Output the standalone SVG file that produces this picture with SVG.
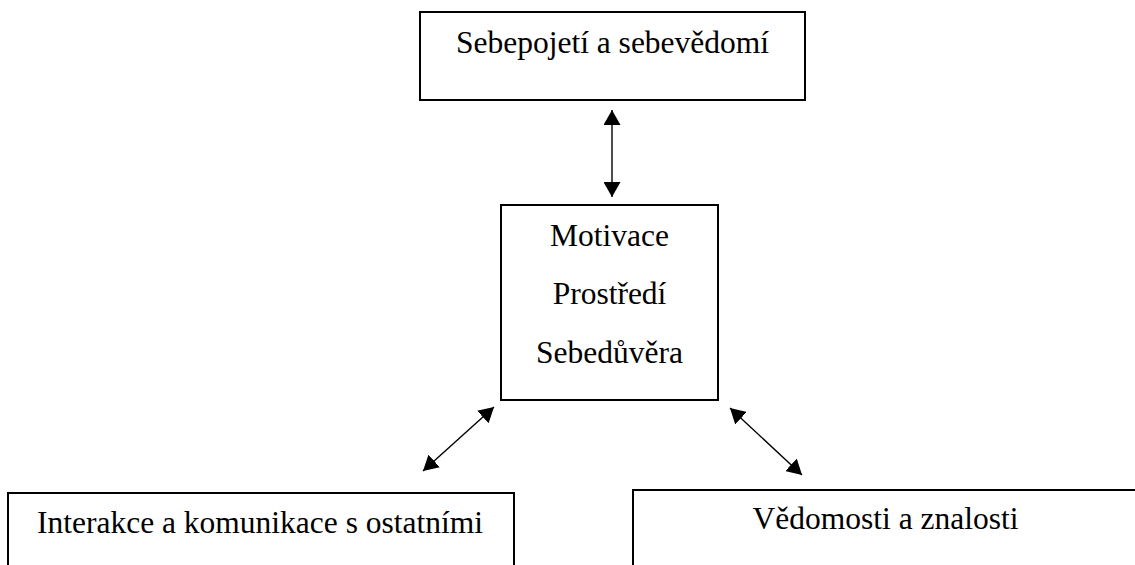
<svg xmlns="http://www.w3.org/2000/svg" width="1135" height="565" viewBox="0 0 1135 565">
<style>
.box{fill:#fff;stroke:#000;stroke-width:2}
.t{font-family:"Liberation Serif","Times New Roman",serif;font-size:31.5px;fill:#000;text-anchor:middle}
.c{stroke:#000;stroke-width:1.4;fill:none;marker-start:url(#ah);marker-end:url(#ah)}
</style>
<defs>
<marker id="ah" markerUnits="userSpaceOnUse" markerWidth="16" markerHeight="17" refX="15" refY="8.5" orient="auto-start-reverse" viewBox="0 0 16 17">
<path d="M0,0 L15,8.5 L0,17 z" fill="#000"/>
</marker>
</defs>
<rect width="1135" height="565" fill="#fff"/>
<g id="n-sebepojeti">
<rect class="box" x="420" y="12" width="385" height="88"/>
<text class="t" x="612.5" y="53">Sebepojetí a sebevědomí</text>
</g>
<g id="n-center">
<rect class="box" x="501" y="205" width="217" height="195"/>
<text class="t" x="609.5" y="246">Motivace</text>
<text class="t" x="609.5" y="304">Prostředí</text>
<text class="t" x="609.5" y="363">Sebedůvěra</text>
</g>
<g id="n-interakce">
<rect class="box" x="8" y="493" width="506" height="90"/>
<text class="t" x="260" y="533">Interakce a komunikace s ostatními</text>
</g>
<g id="n-vedomosti">
<rect class="box" x="633" y="490" width="520" height="90"/>
<text class="t" x="885.5" y="529">Vědomosti a znalosti</text>
</g>
<g id="connectors">
<line class="c" x1="612" y1="110" x2="612" y2="197"/>
<line class="c" x1="494" y1="407" x2="423" y2="471"/>
<line class="c" x1="730" y1="408" x2="802" y2="475"/>
</g>
</svg>
